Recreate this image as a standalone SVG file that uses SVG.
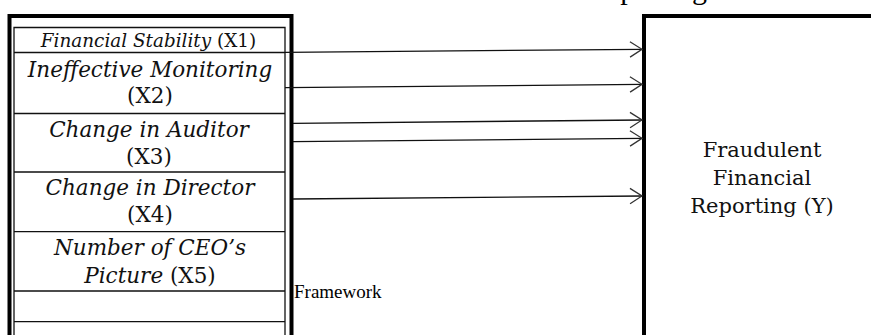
<svg xmlns="http://www.w3.org/2000/svg" width="871" height="335" viewBox="0 0 871 335">
  <style>
    .frame { fill: none; stroke: #000; stroke-width: 4; }
    .cell { fill: none; stroke: #111; stroke-width: 1.3; }
    .var { font-family: "DejaVu Serif", "Liberation Serif", serif; font-style: italic; font-size: 21.5px; fill: #111; text-anchor: middle; }
    .var.small { font-size: 18.4px; }
    .up { font-style: normal; }
    .dep { font-family: "DejaVu Serif", "Liberation Serif", serif; font-size: 21px; fill: #111; text-anchor: middle; }
    .plain { font-family: "Liberation Serif", "Times New Roman", serif; fill: #000; }
    .link { fill: none; stroke: #111; stroke-width: 1.3; marker-end: url(#chev); }
  </style>
  <defs>
    <marker id="chev" markerUnits="userSpaceOnUse" viewBox="0 0 14 18" refX="13" refY="9" markerWidth="14" markerHeight="18" orient="auto">
      <path d="M1,1.3 L13,9 L1,16.7" fill="none" stroke="#333" stroke-width="1.3"/>
    </marker>
  </defs>

  <rect width="871" height="335" fill="#fff"/>

  <!-- cut-off line of running text above the figure -->
  <text class="plain" x="587" y="-1" font-size="30">Reporting</text>

  <!-- independent variables panel -->
  <g id="independents">
    <path class="frame" d="M9.5,335 V16 H291.5 V335"/>
    <path class="cell" d="M14,335 V27.5 H285 V335"/>
    <path class="cell" d="M14,52.5 H285 M14,113.5 H285 M14,172 H285 M14,231.7 H285 M14,291 H285 M14,321.7 H285"/>
  </g>

  <g id="x1">
    <text class="var small" x="148.5" y="46.5">Financial Stability <tspan class="up">(X1)</tspan></text>
  </g>
  <g id="x2">
    <text class="var" x="150" y="76.5">Ineffective Monitoring</text>
    <text class="var up" x="150" y="103">(X2)</text>
  </g>
  <g id="x3">
    <text class="var" x="149" y="136.5">Change in Auditor</text>
    <text class="var up" x="149" y="163.5">(X3)</text>
  </g>
  <g id="x4">
    <text class="var" x="150" y="195">Change in Director</text>
    <text class="var up" x="150" y="222">(X4)</text>
  </g>
  <g id="x5">
    <text class="var" x="150" y="255">Number of CEO’s</text>
    <text class="var" x="150" y="283">Picture <tspan class="up">(X5)</tspan></text>
  </g>

  <text class="plain" x="294" y="298" font-size="19">Framework</text>

  <!-- dependent variable -->
  <g id="y">
    <path class="frame" d="M644,335 V16 H871"/>
    <text class="dep" x="762" y="157">Fraudulent</text>
    <text class="dep" x="762" y="185">Financial</text>
    <text class="dep" x="762" y="213">Reporting (Y)</text>
  </g>

  <!-- connectors -->
  <g id="connectors">
    <path class="link" d="M285,52.3 L642,49.3"/>
    <path class="link" d="M285,87.7 L642,84.3"/>
    <path class="link" d="M293,123.3 L642,120"/>
    <path class="link" d="M293,141.7 L642,138.3"/>
    <path class="link" d="M293,199 L642,196"/>
  </g>
</svg>
